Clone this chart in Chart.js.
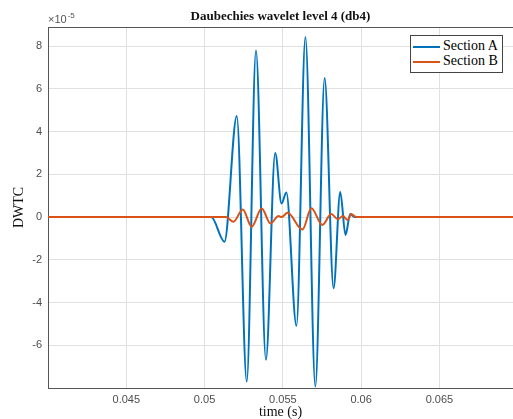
<!DOCTYPE html>
<html>
<head>
<meta charset="utf-8">
<script src="https://cdn.jsdelivr.net/npm/chart.js@4.4.0/dist/chart.umd.min.js"></script>
<style>
  body { margin: 0; background: #fff; }
  #wrap { position: relative; width: 513px; height: 419px; overflow: hidden; }
  #legend { position: absolute; left: 410px; top: 35px; width: 91px; height: 36px;
            border: 1px solid #444; background: #fff;
            font-family: "Liberation Serif", serif; font-size: 14px; color: #000; }
  .row { position: absolute; left: 2px; height: 15px; line-height: 15px; white-space: nowrap; }
  .swatch { display: inline-block; width: 27px; height: 2px; vertical-align: middle; margin-right: 3px; }
</style>
</head>
<body>
<div id="wrap">
  <canvas id="myChart" width="513" height="419"></canvas>
  <div id="legend"></div>
</div>

<script>
// values are in units of 1e-5 (axis shows "x10^-5")
const timeA = [0.0400, 0.050426, 0.051271, 0.052058, 0.052694, 0.053285, 0.053920, 0.054511,
               0.054917, 0.055222, 0.055870, 0.056442, 0.057077, 0.057668, 0.058240, 0.058666,
               0.059002, 0.059301, 0.059574, 0.0697];
const sectionA = [0, 0, -1.15, 4.73, -7.70, 7.80, -6.68, 3.00,
                  0.64, 1.15, -5.09, 8.43, -7.93, 6.51, -3.33, 1.18,
                  -0.84, 0.14, 0, 0];

const timeB = [0.0400, 0.051379, 0.051842, 0.052440, 0.053011, 0.053647, 0.054218, 0.054720,
               0.054917, 0.055300, 0.056251, 0.056823, 0.057522, 0.058094, 0.058513, 0.058831,
               0.059148, 0.059364, 0.059682, 0.0697];
const sectionB = [0, 0, -0.22, 0.36, -0.45, 0.40, -0.30, 0.05,
                  0.00, 0.20, -0.58, 0.41, -0.37, 0.14, -0.10, 0.05,
                  -0.14, 0.14, 0, 0];

const seriesNames = ["Section A", "Section B"];
const seriesColors = ["#0072BD", "#D95319"];

const xTicks = [0.045, 0.05, 0.055, 0.06, 0.065];
const xTickLabels = ["0.045", "0.05", "0.055", "0.06", "0.065"];
const yTicks = [-6, -4, -2, 0, 2, 4, 6, 8];
const yTickLabels = ["-6", "-4", "-2", "0", "2", "4", "6", "8"];

const sans = '"Liberation Sans", Arial, sans-serif';
const serif = '"Liberation Serif", "Times New Roman", serif';
const gridColor = "#e0e0e0";
const axisColor = "#555";

// the "x10^-5" exponent label above the y axis
const exponentLabel = {
  id: "exponentLabel",
  afterDraw(chart) {
    const ctx = chart.ctx;
    const a = chart.chartArea;
    ctx.save();
    ctx.fillStyle = "#555";
    ctx.textBaseline = "alphabetic";
    ctx.font = "11px " + sans;
    ctx.fillText("\u00d710", a.left, a.top - 4);
    const w = ctx.measureText("\u00d710").width;
    ctx.font = "8px " + sans;
    ctx.fillText("-5", a.left + w + 1, a.top - 9);
    ctx.restore();
  }
};

// Section B is drawn over Section A, like in the original
const datasets = [
  { label: seriesNames[0], order: 1, data: timeA.map((t, i) => ({ x: t, y: sectionA[i] })) },
  { label: seriesNames[1], order: 0, data: timeB.map((t, i) => ({ x: t, y: sectionB[i] })) }
].map((d, i) => Object.assign(d, {
  borderColor: seriesColors[i],
  backgroundColor: seriesColors[i],
  borderWidth: 2,
  pointRadius: 0,
  cubicInterpolationMode: "monotone",
  fill: false
}));

new Chart("myChart", {
  type: "line",
  data: { datasets: datasets },
  options: {
    responsive: false,
    animation: false,
    layout: { padding: 0 },
    plugins: { legend: { display: false }, tooltip: { enabled: false } },
    scales: {
      x: {
        type: "linear",
        position: "bottom",
        min: 0.0400,
        max: 0.0697,
        afterBuildTicks: s => { s.ticks = xTicks.map(v => ({ value: v })); },
        afterFit: s => { s.height = 31; },
        ticks: {
          callback: (v, i) => xTickLabels[i],
          color: "#4d4d4d",
          font: { family: sans, size: 11 },
          padding: 5,
          maxRotation: 0
        },
        grid: { color: gridColor, drawTicks: false },
        border: { color: axisColor, width: 1 },
        title: {
          display: true,
          text: "time (s)",
          color: "#111",
          font: { family: serif, size: 14, lineHeight: 1 },
          padding: { top: 0, bottom: 0 }
        }
      },
      x2: {
        type: "linear",
        position: "top",
        min: 0.0400,
        max: 0.0697,
        afterFit: s => { s.height = 27; },
        ticks: { display: false },
        grid: { drawOnChartArea: false, drawTicks: false },
        border: { color: axisColor, width: 1 },
        title: {
          display: true,
          text: "Daubechies wavelet level 4 (db4)",
          color: "#111",
          font: { family: serif, size: 13, weight: "bold", lineHeight: 1 },
          padding: { top: 10, bottom: 0 }
        }
      },
      y: {
        type: "linear",
        min: -8,
        max: 8.9,
        afterBuildTicks: s => { s.ticks = yTicks.map(v => ({ value: v })); },
        afterFit: s => { s.width = 48; },
        ticks: {
          callback: (v, i) => yTickLabels[i],
          color: "#4d4d4d",
          font: { family: sans, size: 11 },
          padding: 6
        },
        grid: { color: gridColor, drawTicks: false },
        border: { color: axisColor, width: 1 },
        title: {
          display: true,
          text: "DWTC",
          color: "#111",
          font: { family: serif, size: 14, lineHeight: 1 },
          padding: { top: 12, bottom: 0 }
        }
      }
    }
  },
  plugins: [exponentLabel]
});

// legend box in the upper right corner
const legendDiv = document.getElementById("legend");
seriesNames.forEach((name, i) => {
  const row = document.createElement("div");
  row.className = "row";
  row.style.top = (i === 0 ? 2 : 17) + "px";
  row.innerHTML = '<span class="swatch" style="background:' + seriesColors[i] + '"></span>' + name;
  legendDiv.appendChild(row);
});
</script>
</body>
</html>
